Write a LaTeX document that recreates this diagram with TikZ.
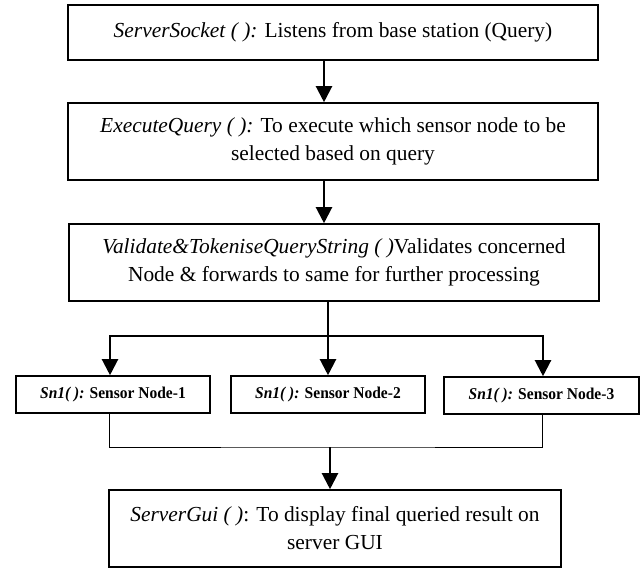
\documentclass[tikz,border=0pt]{standalone}
\usepackage{fontspec}
\setmainfont{Liberation Serif}
\usetikzlibrary{arrows.meta,calc}

\newcommand{\narrowtext}[1]{\scalebox{0.94}[1]{#1}}

\tikzset{
  procbox/.style={draw=black, line width=1.6pt, fill=white, align=center,
    inner sep=0pt, font=\fontsize{21.4}{28}\selectfont},
  sensorbox/.style={draw=black, line width=1.6pt, fill=white, align=center,
    inner sep=0pt, minimum width=194pt, minimum height=37pt,
    font=\fontsize{16.5}{18}\selectfont\bfseries},
  flow/.style={line width=2.2pt, -{Triangle[length=16pt,width=16pt]}},
  trunk/.style={line width=2.2pt},
  thinline/.style={line width=1pt},
}

\begin{document}
\begin{tikzpicture}[x=1pt, y=-1pt]
  \useasboundingbox (0,0) rectangle (640,568);

  % main processing chain
  \node[procbox, minimum width=530pt, minimum height=55pt] (sock) at (333,32.5)
    {\textit{ServerSocket ( ):} Listens from base station (Query)};
  \node[procbox, minimum width=530pt, minimum height=77pt] (exec) at (333,141.5)
    {\textit{ExecuteQuery ( ):} To execute which sensor node to be\\selected based on query};
  \node[procbox, minimum width=530pt, minimum height=77pt] (valid) at (334,262.5)
    {\textit{Validate\&TokeniseQueryString ( )}Validates concerned\\Node \& forwards to same for further processing};

  % sensor nodes
  \node[sensorbox] (sn1) at (113,394.5) {\narrowtext{\textit{Sn1( ):} Sensor Node-1}};
  \node[sensorbox] (sn2) at (328,394.5) {\narrowtext{\textit{Sn1( ):} Sensor Node-2}};
  \node[sensorbox, minimum width=195pt] (sn3) at (541.5,395.5) {\narrowtext{\textit{Sn1( ):} Sensor Node-3}};

  % result display
  \node[procbox, minimum width=452pt, minimum height=77pt] (gui) at (335,528.5)
    {\textit{ServerGui ( )}: To display final queried result on\\server GUI};

  % chain arrows
  \draw[flow] ([xshift=-9pt]sock.south) -- ([xshift=-9pt]exec.north);
  \draw[flow] ([xshift=-9pt]exec.south) -- ([xshift=-10pt]valid.north);

  % fan-out to the sensor nodes
  \coordinate (split) at (sn2.north |- 0,336);
  \draw[trunk] (valid.south -| sn2.north) -- (split);
  \draw[flow] (split) -| ([xshift=-3pt]sn1.north);
  \draw[flow] (split) -| ([xshift=1.5pt]sn3.north);
  \draw[flow] (split) -- (sn2.north);

  % gathering towards the display
  \coordinate (merge) at (330,447);
  \draw[thinline] ([xshift=-4pt]sn1.south) |- (merge) -| ([xshift=0.5pt]sn3.south);
  \draw[flow] (merge) -- (merge |- gui.north);
\end{tikzpicture}
\end{document}
